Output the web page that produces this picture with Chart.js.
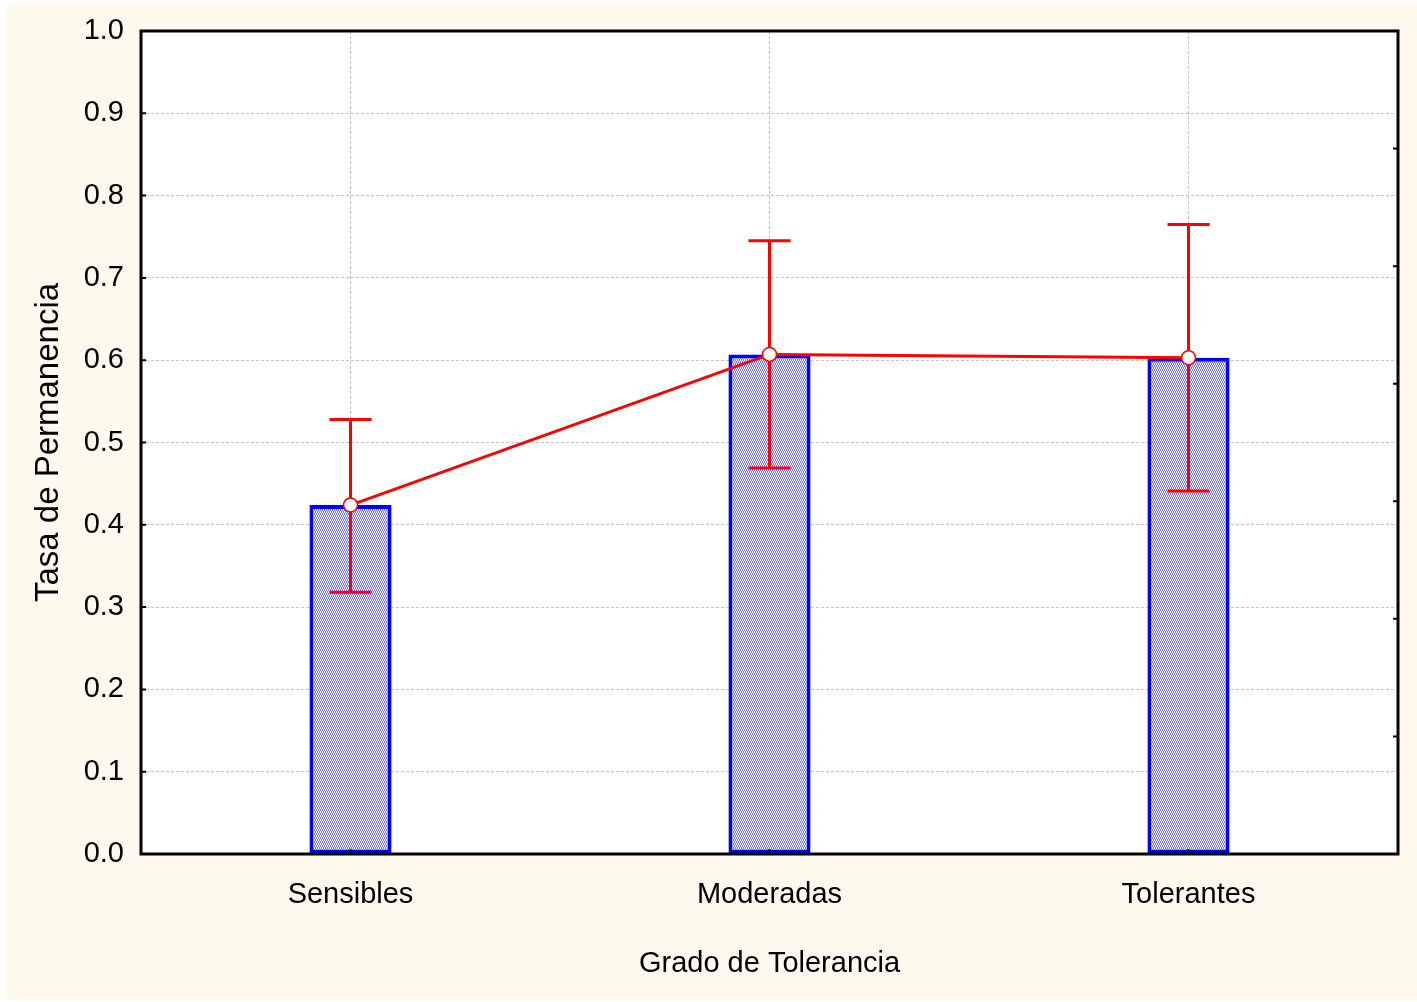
<!DOCTYPE html>
<html>
<head>
<meta charset="utf-8">
<script src="https://cdn.jsdelivr.net/npm/chart.js@4.4.1/dist/chart.umd.min.js"></script>
<style>
  html, body { margin: 0; padding: 0; background: #fff; }
  #wrap { position: absolute; left: 6px; top: 5px; width: 1411px; height: 995px; background: #fff9ee; }
</style>
</head>
<body>
<div id="wrap"><canvas id="chart" width="1411" height="995"></canvas></div>
<script>
// Tasa de permanencia por grado de tolerancia (media +/- error)
const categories = ['Sensibles', 'Moderadas', 'Tolerantes'];
const means = [0.424, 0.607, 0.603];
const upper = [0.528, 0.745, 0.765];
const lower = [0.318, 0.469, 0.441];
const yTicks = [0, 0.1, 0.2, 0.3, 0.4, 0.5, 0.6, 0.7, 0.8, 0.9, 1.0];

const FONT = "'Liberation Sans', Arial, sans-serif";

// hatched fill like the original (blue/white checker)
function makePattern() {
  const c = document.createElement('canvas');
  c.width = 2; c.height = 4;
  const g = c.getContext('2d');
  g.fillStyle = '#ffffff'; g.fillRect(0, 0, 2, 4);
  g.fillStyle = '#7070ff';
  g.fillRect(0, 0, 1, 2);
  g.fillRect(1, 2, 1, 2);
  return g.createPattern(c, 'repeat');
}

const plotFrame = {
  id: 'plotFrame',
  beforeDraw(chart) {
    const { ctx, chartArea: a } = chart;
    ctx.save();
    ctx.fillStyle = '#ffffff';
    ctx.fillRect(a.left, a.top, a.right - a.left, a.bottom - a.top);
    ctx.restore();
  },
  afterDatasetsDraw(chart) {
    const { ctx, chartArea: a, scales } = chart;
    ctx.save();
    ctx.strokeStyle = '#000';
    ctx.lineWidth = 3;
    ctx.strokeRect(a.left, a.top, a.right - a.left, a.bottom - a.top);
    // small inward tick marks
    ctx.lineWidth = 2;
    ctx.beginPath();
    yTicks.forEach(v => {
      const y = scales.y.getPixelForValue(v);
      ctx.moveTo(a.left, y); ctx.lineTo(a.left + 5, y);
    });
    categories.forEach((c, i) => {
      const x = scales.x.getPixelForValue(i);
      ctx.moveTo(x, a.bottom); ctx.lineTo(x, a.bottom - 5);
    });
    for (let k = 1; k < 7; k++) {
      const y = scales.y2.getPixelForValue(k);
      ctx.moveTo(a.right, y); ctx.lineTo(a.right - 5, y);
    }
    ctx.stroke();
    ctx.restore();
  }
};

const errorBars = {
  id: 'errorBars',
  afterDatasetDraw(chart, args) {
    if (args.index !== 1) return;
    const { ctx, scales } = chart;
    ctx.save();
    ctx.strokeStyle = '#ff0000';
    ctx.lineWidth = 3;
    ctx.beginPath();
    categories.forEach((c, i) => {
      const x = scales.x.getPixelForValue(i);
      const yu = scales.y.getPixelForValue(upper[i]);
      const yl = scales.y.getPixelForValue(lower[i]);
      ctx.moveTo(x, yu); ctx.lineTo(x, yl);
      ctx.moveTo(x - 21, yu); ctx.lineTo(x + 21, yu);
      ctx.moveTo(x - 21, yl); ctx.lineTo(x + 21, yl);
    });
    ctx.stroke();
    ctx.restore();
  }
};

const gridStyle = { color: '#c4c4c4', lineWidth: 1, drawTicks: false };

new Chart(document.getElementById('chart'), {
  data: {
    labels: categories,
    datasets: [
      {
        type: 'line', data: means, order: 0,
        borderColor: '#ff0000', borderWidth: 3,
        pointRadius: 7, pointBackgroundColor: '#ffffff',
        pointBorderColor: '#ff0000', pointBorderWidth: 1.5, tension: 0
      },
      {
        type: 'bar', data: means, order: 1,
        backgroundColor: makePattern(), borderColor: '#0000ff', borderWidth: 4,
        borderSkipped: false, barPercentage: 0.196, categoryPercentage: 1
      }
    ]
  },
  options: {
    responsive: false,
    animation: false,
    layout: { padding: { left: 0, top: 26, right: 19, bottom: 0 } },
    plugins: { legend: { display: false }, tooltip: { enabled: false } },
    scales: {
      x: {
        offset: true,
        grid: { ...gridStyle, offset: false },
        border: { display: false, dash: [3, 2] },
        ticks: { color: '#000', font: { family: FONT, size: 29 }, padding: 24 },
        title: { display: true, text: 'Grado de Tolerancia', color: '#000', font: { family: FONT, size: 29 }, padding: { top: 0, bottom: 19 } },
        afterFit(s) { s.height = 146; s.paddingLeft = 0; s.paddingRight = 0; }
      },
      y: {
        min: 0, max: 1,
        afterBuildTicks(s) { s.ticks = yTicks.map(v => ({ value: v })); },
        grid: gridStyle,
        border: { display: false, dash: [3, 2] },
        ticks: { color: '#000', font: { family: FONT, size: 29 }, padding: 17, callback: v => v.toFixed(1) },
        title: { display: true, text: 'Tasa de Permanencia', color: '#000', font: { family: FONT, size: 33 }, padding: { top: 23, bottom: 0 } },
        afterFit(s) { s.width = 135; s.paddingTop = 0; s.paddingBottom = 0; }
      },
      y2: { display: false, min: 0, max: 7 }
    }
  },
  plugins: [plotFrame, errorBars]
});
</script>
</body>
</html>
